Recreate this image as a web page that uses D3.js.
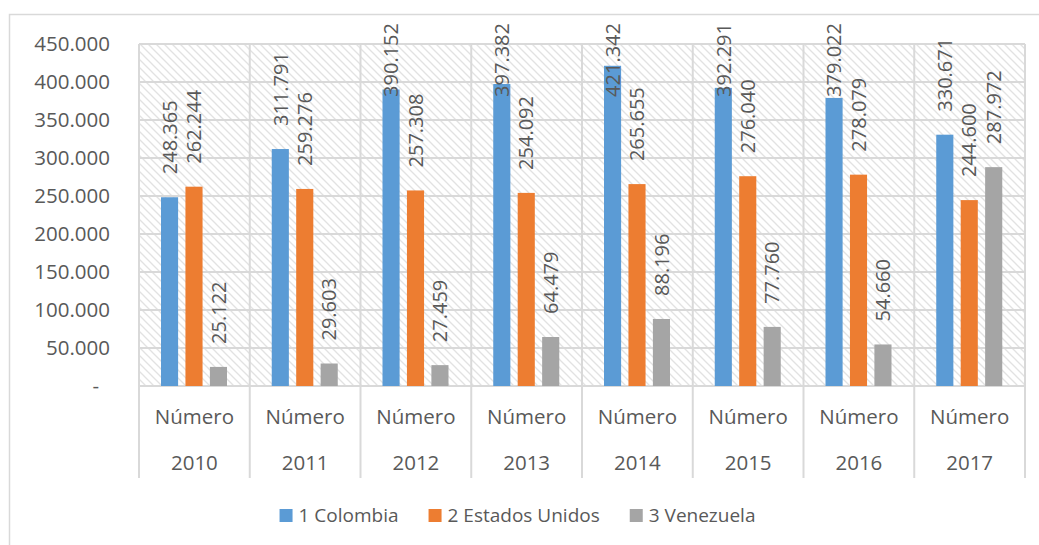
<!DOCTYPE html>
<html>
<head>
<meta charset="utf-8">
<script src="https://d3js.org/d3.v7.min.js"></script>
<style>
  body { margin: 0; background: #fff; }
  text { font-family: 'Open Sans', sans-serif; fill: #595959; }
</style>
</head>
<body>
<div id="chart"></div>
<script>
// Data
const years = ['2010', '2011', '2012', '2013', '2014', '2015', '2016', '2017'];
const seriesNames = ['1 Colombia', '2 Estados Unidos', '3 Venezuela'];
const colombia = [248365, 311791, 390152, 397382, 421342, 392291, 379022, 330671];
const estadosUnidos = [262244, 259276, 257308, 254092, 265655, 276040, 278079, 244600];
const venezuela = [25122, 29603, 27459, 64479, 88196, 77760, 54660, 287972];
const yTicks = [0, 50000, 100000, 150000, 200000, 250000, 300000, 350000, 400000, 450000];
const subLabel = 'Número';

const colors = ['#5b9bd5', '#ed7d31', '#a5a5a5'];
const gridColor = '#d9d9d9';

const width = 1039, height = 545;
const plot = { left: 139, right: 1025, top: 44, bottom: 386 };

const es = d3.formatLocale({ decimal: ',', thousands: '.', grouping: [3], currency: ['', ''] });
const fmt = es.format(',.0f');

const svg = d3.select('#chart').append('svg')
  .attr('width', width).attr('height', height);

// Hatch pattern for the plot background
const defs = svg.append('defs');
const pat = defs.append('pattern')
  .attr('id', 'hatch').attr('patternUnits', 'userSpaceOnUse')
  .attr('width', 8).attr('height', 8);
pat.append('rect').attr('width', 8).attr('height', 8).attr('fill', '#fff');
pat.append('path')
  .attr('d', 'M-2,-2 L10,10 M-2,6 L2,10 M6,-2 L10,2')
  .attr('stroke', '#e2e2e2').attr('stroke-width', 1.3);

// Chart border
svg.append('rect')
  .attr('x', 9.5).attr('y', 14.5).attr('width', 1040).attr('height', 540)
  .attr('fill', '#fff').attr('stroke', gridColor).attr('stroke-width', 1.5);

// Scales
const x = d3.scaleBand().domain(years).range([plot.left, plot.right]);
const xInner = d3.scaleBand().domain(d3.range(3)).range([22, 88]).paddingInner(0.3);
const y = d3.scaleLinear().domain([0, 450000]).range([plot.bottom, plot.top]);

svg.append('rect')
  .attr('x', plot.left).attr('y', plot.top)
  .attr('width', plot.right - plot.left).attr('height', plot.bottom - plot.top)
  .attr('fill', 'url(#hatch)');

// Horizontal gridlines
svg.append('g').selectAll('line')
  .data(yTicks).enter().append('line')
  .attr('x1', plot.left).attr('x2', plot.right)
  .attr('y1', d => y(d)).attr('y2', d => y(d))
  .attr('stroke', gridColor).attr('stroke-width', 2);

// Vertical category separators, running down through the axis labels
const bounds = years.map(d => x(d)).concat([plot.right]);
svg.append('g').selectAll('line')
  .data(bounds).enter().append('line')
  .attr('x1', d => d).attr('x2', d => d)
  .attr('y1', plot.top).attr('y2', 478)
  .attr('stroke', gridColor).attr('stroke-width', 2);

// Y axis
const yAxis = svg.append('g')
  .attr('transform', `translate(${plot.left},0)`)
  .call(d3.axisLeft(y).tickValues(yTicks).tickSize(0).tickPadding(29)
    .tickFormat(d => d === 0 ? '-' : fmt(d)));
yAxis.select('.domain').remove();
yAxis.selectAll('text')
  .attr('font-size', 20.5).attr('fill', '#595959')
  .attr('font-family', "'Open Sans', sans-serif")
  .attr('dx', d => d === 0 ? -11 : 0);

// Category labels
const cats = svg.append('g').selectAll('g')
  .data(years).enter().append('g')
  .attr('transform', d => `translate(${x(d) + x.bandwidth() / 2},0)`);
cats.append('text').attr('y', 417).attr('dy', '0.35em')
  .attr('text-anchor', 'middle').attr('font-size', 20.5).text(subLabel);
cats.append('text').attr('y', 463).attr('dy', '0.35em')
  .attr('text-anchor', 'middle').attr('font-size', 20.5).text(d => d);

// Bars
const series = [colombia, estadosUnidos, venezuela];
const rows = [];
years.forEach((yr, i) => {
  series.forEach((s, j) => rows.push({ year: yr, s: j, value: s[i] }));
});

svg.append('g').selectAll('rect')
  .data(rows).enter().append('rect')
  .attr('x', d => x(d.year) + xInner(d.s))
  .attr('y', d => y(d.value))
  .attr('width', xInner.bandwidth())
  .attr('height', d => y(0) - y(d.value))
  .attr('fill', d => colors[d.s]);

// Value labels, rotated, clamped to the top of the chart area
const labels = svg.append('g').selectAll('text')
  .data(rows).enter().append('text')
  .attr('font-size', 20)
  .attr('text-anchor', 'start')
  .attr('dy', '0.36em')
  .text(d => fmt(d.value));
labels.each(function(d) {
  const len = this.getComputedTextLength();
  const cx = x(d.year) + xInner(d.s) + xInner.bandwidth() / 2;
  const start = Math.max(y(d.value) - 23, 23 + len);
  d3.select(this).attr('transform', `translate(${cx},${start}) rotate(-90)`);
});

// Legend
const legend = svg.append('g');
let lx = 0;
seriesNames.forEach((name, i) => {
  const item = legend.append('g').attr('transform', `translate(${lx},0)`);
  item.append('rect').attr('x', 0).attr('y', 509).attr('width', 13).attr('height', 13)
    .attr('fill', colors[i]);
  const t = item.append('text').attr('x', 19).attr('y', 515.5).attr('dy', '0.35em')
    .attr('font-size', 19).text(name);
  lx += 19 + t.node().getComputedTextLength() + 30;
});
const legendWidth = lx - 30;
legend.attr('transform', `translate(${517.5 - legendWidth / 2},0)`);
</script>
</body>
</html>
